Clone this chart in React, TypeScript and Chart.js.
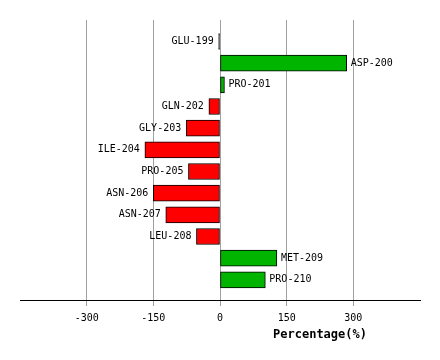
import React, { useEffect, useRef } from "react";
import { Chart, registerables } from "chart.js";

Chart.register(...registerables);

const residues = [
  "GLU-199", "ASP-200", "PRO-201", "GLN-202", "GLY-203", "ILE-204",
  "PRO-205", "ASN-206", "ASN-207", "LEU-208", "MET-209", "PRO-210",
];
const percentages = [-3, 285, 10, -25, -76, -169, -71, -150, -122, -53, 128, 102];
const tickValues = [-300, -150, 0, 150, 300];
const axisTitle = "Percentage(%)";

const GREEN = "#00b400";
const RED = "#ff0000";
const FONT = "'DejaVu Sans Mono', monospace";

export default function App() {
  const ref = useRef<HTMLCanvasElement | null>(null);

  useEffect(() => {
    document.body.style.margin = "0";
    const canvas = ref.current;
    if (!canvas) return;

    const labelPlugin = {
      id: "barLabels",
      afterDatasetsDraw(chart: any) {
        const ctx = chart.ctx;
        const meta = chart.getDatasetMeta(0);
        ctx.save();
        ctx.font = `10px ${FONT}`;
        ctx.fillStyle = "#000";
        ctx.textBaseline = "middle";
        meta.data.forEach((el: any, i: number) => {
          const v = percentages[i];
          const props = el.getProps(["x", "y", "base"], true);
          if (v > 0) {
            ctx.textAlign = "left";
            ctx.fillText(residues[i], Math.max(props.x, props.base) + 4, props.y);
          } else {
            ctx.textAlign = "right";
            ctx.fillText(residues[i], Math.min(props.x, props.base) - 5, props.y);
          }
        });
        ctx.restore();
      },
      afterDraw(chart: any) {
        const ctx = chart.ctx;
        ctx.save();
        ctx.font = `bold 12px ${FONT}`;
        ctx.fillStyle = "#000";
        ctx.textAlign = "center";
        ctx.textBaseline = "middle";
        ctx.fillText(axisTitle, 320, 335);
        ctx.restore();
      },
    };

    const chart = new Chart(canvas, {
      type: "bar",
      data: {
        datasets: [
          {
            data: percentages.map((v, i) => ({ x: v, y: i })),
            backgroundColor: percentages.map((v) =>
              Math.abs(v) < 5 ? "#000" : v > 0 ? GREEN : RED
            ),
            borderColor: "#000",
            borderWidth: 1,
            borderSkipped: false,
            barThickness: 16,
          },
        ],
      },
      options: {
        indexAxis: "y",
        responsive: false,
        animation: false,
        devicePixelRatio: 1,
        layout: { padding: { left: 20, right: 20, top: 20, bottom: 0 } },
        plugins: {
          legend: { display: false },
          tooltip: { enabled: false },
        },
        scales: {
          y: {
            type: "linear",
            reverse: true,
            offset: false,
            min: -0.99,
            max: 11.93,
            display: false,
            grid: { offset: false },
          },
          x: {
            type: "linear",
            min: -450,
            max: 450,
            afterBuildTicks: (scale: any) => {
              scale.ticks = tickValues.map((v) => ({ value: v }));
            },
            afterFit: (scale: any) => {
              scale.height = 60;
            },
            grid: {
              color: "#a0a0a0",
              lineWidth: 1,
              tickLength: 6,
              drawOnChartArea: true,
            },
            border: { display: true, color: "#000", width: 1 },
            ticks: {
              font: { family: FONT, size: 10 },
              color: "#000",
              padding: 6,
              maxRotation: 0,
              callback: (v: any) => String(v),
            },
          },
        },
      },
      plugins: [labelPlugin],
    });

    return () => chart.destroy();
  }, []);

  return (
    <div style={{ position: "absolute", left: 0, top: 0, width: 440, height: 360, background: "#fff" }}>
      <canvas ref={ref} width={440} height={360} />
    </div>
  );
}
